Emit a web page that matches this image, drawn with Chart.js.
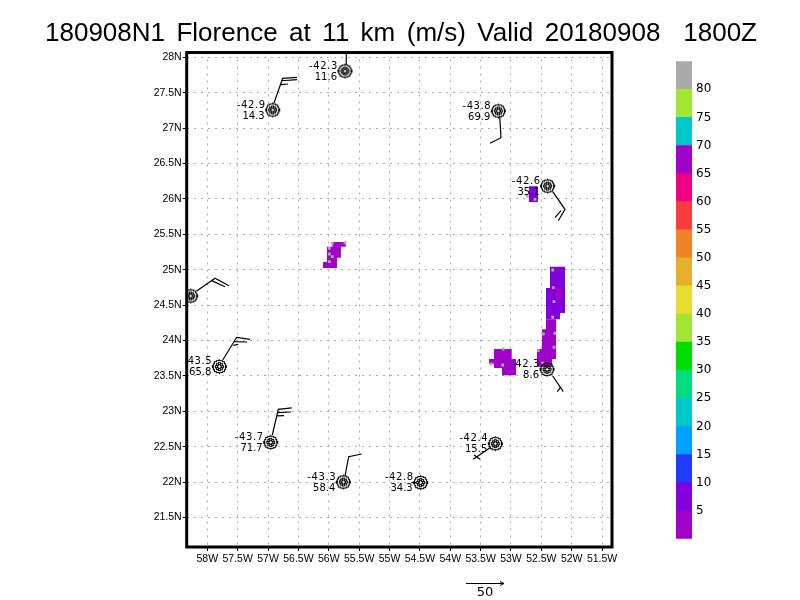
<!DOCTYPE html>
<html>
<head>
<meta charset="utf-8">
<script src="https://cdn.jsdelivr.net/npm/chart.js@4/dist/chart.umd.min.js"></script>
<style>
    body { margin: 0; background: #fff; }
    #map { position: absolute; left: 0; top: 0; }
    #key { position: absolute; left: 670px; top: 50px; }
</style>
</head>
<body>
<canvas id="map" width="800" height="600"></canvas>
<canvas id="key" width="60" height="500"></canvas>
<script>
const titleText = '180908N1 Florence at 11 km (m/s) Valid 20180908  1800Z';

const lonTicks = [-58, -57.5, -57, -56.5, -56, -55.5, -55, -54.5, -54, -53.5, -53, -52.5, -52, -51.5];
const latTicks = [21.5, 22, 22.5, 23, 23.5, 24, 24.5, 25, 25.5, 26, 26.5, 27, 27.5, 28];

// storm centres and their two labels
const stormLon = [-55.733, -56.923, -53.209, -52.396, -58.273, -57.802, -56.956, -55.761, -54.487, -53.259, -52.407];
const stormLat = [27.806, 27.256, 27.242, 26.182, 24.629, 23.63, 22.562, 22.001, 21.992, 22.542, 23.593];
const stormTemp = ['-42.3', '-42.9', '-43.8', '-42.6', null, '-43.5', '-43.7', '-43.3', '-42.8', '-42.4', '-42.3'];
const stormSpeed = ['11.6', '14.3', '69.9', '35.1', null, '65.8', '71.7', '58.4', '34.3', '15.5', '8.6'];

// wind barbs, null breaks the line
const barbLon = [
    -55.712, -55.712, null,
    -56.902, -56.759, -56.523, null, -56.775, -56.523, null, -56.792, -56.671, null,
    -53.186, -53.165, -53.346, null,
    -52.313, -52.111, -52.221, null, -52.177, -52.276, null,
    -58.175, -57.873, -57.643, null, -57.928, -57.709, null,
    -57.746, -57.516, -57.297, null, -57.555, -57.346, null, -57.572, -57.49, null,
    -56.93, -56.831, -56.61, null, -56.848, -56.622, null, -56.857, -56.737, null,
    -55.733, -55.672, -55.458, null,
    -54.635, -54.564, null,
    -53.334, -53.621, null, -53.609, -53.51, null,
    -52.313, -52.139, null, -52.177, -52.238
];
const barbLat = [
    27.891, 28.103, null,
    27.355, 27.703, 27.718, null, 27.669, 27.686, null, 27.613, 27.623, null,
    27.171, 26.864, 26.785, null,
    26.102, 25.853, 25.692, null, 25.833, 25.735, null,
    24.699, 24.879, 24.774, null, 24.845, 24.76, null,
    23.725, 24.045, 24.017, null, 23.983, 23.979, null, 23.932, 23.946, null,
    22.665, 23.028, 23.047, null, 22.98, 22.99, null, 22.934, 22.938, null,
    22.086, 22.359, 22.397, null,
    21.992, 21.992, null,
    22.492, 22.322, null, 22.383, 22.322, null,
    23.499, 23.277, null, 23.348, 23.277
];

// shaded patches, lon/lat outlines
const patchALon = [-55.94, -55.72, -55.72, -55.80, -55.80, -55.865, -55.865, -56.095, -56.095, -56.03, -56.03, -55.94];
const patchALat = [25.39, 25.39, 25.325, 25.325, 25.17, 25.17, 25.025, 25.025, 25.11, 25.11, 25.325, 25.325];
const patchBLon = [-52.358, -52.111, -52.111, -52.193, -52.193, -52.424, -52.424, -52.358];
const patchBLat = [25.04, 25.04, 24.39, 24.39, 24.30, 24.30, 24.74, 24.74];
const patchCLon = [-52.424, -52.259, -52.259, -52.325, -52.325, -52.572, -52.572, -52.49, -52.49, -52.424];
const patchCLat = [24.30, 24.30, 23.74, 23.74, 23.63, 23.63, 23.88, 23.88, 24.16, 24.16];
const patchDLon = [-53.28, -52.988, -52.988, -52.918, -52.918, -53.148, -53.148, -53.28, -53.28, -53.362, -53.362, -53.28];
const patchDLat = [23.88, 23.88, 23.74, 23.74, 23.51, 23.51, 23.61, 23.61, 23.67, 23.67, 23.74, 23.74];
const patchELon = [-52.704, -52.555, -52.555, -52.704];
const patchELat = [26.18, 26.18, 25.956, 25.956];
const patchFLon = [-52.27, -52.16, -52.16, -52.27];
const patchFLat = [24.74, 24.74, 24.6, 24.6];

// grey specks inside the patches
const speckLon = [-52.313, -52.304, -52.292, -52.313, -52.276, -52.468, -52.292, -52.551, -52.478, -53.127, -53.329, -53.137, -55.942, -55.733, -55.991, -55.942, -55.991, -55.991, -52.605, -52.732];
const speckLat = [24.996, 24.746, 24.548, 24.328, 24.102, 24.092, 23.904, 23.856, 23.678, 23.88, 23.668, 23.654, 25.373, 25.381, 25.222, 25.184, 25.302, 25.113, 25.994, 26.041];

// colour key
const keyEdges = [0, 5, 10, 15, 20, 25, 30, 35, 40, 45, 50, 55, 60, 65, 70, 75, 80, 85];
const keyColors = ['#a000c8', '#8200dc', '#1e3cff', '#00a0ff', '#00c8c8', '#00dc82', '#00dc00', '#a0e632', '#e6dc32', '#e6af2d', '#f08228', '#fa3c3c', '#f00082', '#a000c8', '#00c8c8', '#a0e632', '#aaaaaa'];
const keyTicks = [5, 10, 15, 20, 25, 30, 35, 40, 45, 50, 55, 60, 65, 70, 75, 80];

// reference arrow under the map
const arrowLon = [-53.741, -53.115];
const arrowLabel = '50';

function zip(xs, ys) {
    return xs.map((x, i) => ({ x: x, y: ys[i] }));
}

function patch(xs, ys, color) {
    return {
        data: zip(xs, ys),
        showLine: true,
        fill: 'shape',
        backgroundColor: color,
        borderWidth: 0,
        pointRadius: 0,
        tension: 0,
        order: 5
    };
}

function stormSymbol() {
    const c = document.createElement('canvas');
    c.width = 17;
    c.height = 17;
    const g = c.getContext('2d', { willReadFrequently: true });
    g.strokeStyle = '#000';
    g.lineWidth = 1.1;
    [6.5, 3.8, 1.8].forEach(r => {
        g.beginPath();
        g.arc(8.5, 8.5, r, 0, Math.PI * 2);
        g.stroke();
    });
    // hard edges, the rings go grey otherwise
    const img = g.getImageData(0, 0, 17, 17);
    for (let i = 3; i < img.data.length; i += 4) {
        img.data[i] = img.data[i] > 90 ? 255 : 0;
    }
    g.putImageData(img, 0, 0);
    return c;
}

const overlay = {
    id: 'overlay',
    afterDatasetsDraw(chart) {
        const { ctx, chartArea, scales } = chart;
        const a = chartArea;

        ctx.save();
        ctx.beginPath();
        ctx.rect(a.left, a.top, a.width, a.height);
        ctx.clip();
        ctx.fillStyle = '#000';
        ctx.font = '10px "DejaVu Sans"';
        ctx.textAlign = 'right';
        ctx.textBaseline = 'middle';
        stormLon.forEach((lon, i) => {
            if (!stormTemp[i]) return;
            const x = scales.x.getPixelForValue(lon);
            const y = scales.y.getPixelForValue(stormLat[i]);
            ctx.letterSpacing = '0.6px';
            ctx.fillText(stormTemp[i], x - 7, y - 5);
            ctx.letterSpacing = '0px';
            ctx.fillText(stormSpeed[i], x - 8, y + 6);
        });
        ctx.restore();

        ctx.save();
        ctx.strokeStyle = '#000';
        ctx.lineWidth = 3;
        ctx.strokeRect(a.left, a.top, a.width, a.height);

        const x0 = scales.x.getPixelForValue(arrowLon[0]);
        const x1 = scales.x.getPixelForValue(arrowLon[1]);
        const y = a.bottom + 36.5;
        ctx.lineWidth = 1;
        ctx.beginPath();
        ctx.moveTo(x0, y);
        ctx.lineTo(x1, y);
        ctx.moveTo(x1 - 4, y - 2);
        ctx.lineTo(x1, y);
        ctx.lineTo(x1 - 4, y + 2);
        ctx.stroke();
        ctx.fillStyle = '#000';
        ctx.font = '13px "DejaVu Sans"';
        ctx.textAlign = 'center';
        ctx.textBaseline = 'middle';
        ctx.fillText(arrowLabel, (x0 + x1) / 2, y + 9.5);

        // the title is wider than the plot box, so it goes here and not in the title plugin
        ctx.font = '26px "Liberation Sans"';
        ctx.textAlign = 'left';
        const spaces = titleText.split(' ').length - 1;
        ctx.wordSpacing = (712 - ctx.measureText(titleText).width) / spaces + 'px';
        ctx.fillText(titleText, 45, 34);
        ctx.restore();
    }
};

new Chart(document.getElementById('map'), {
    type: 'scatter',
    data: {
        datasets: [
            {
                data: zip(stormLon, stormLat),
                pointStyle: stormSymbol(),
                pointRadius: 8,
                showLine: false,
                order: 1
            },
            {
                data: zip(barbLon, barbLat),
                showLine: true,
                spanGaps: false,
                borderColor: '#000',
                borderWidth: 1.2,
                pointRadius: 0,
                tension: 0,
                order: 2
            },
            {
                data: zip(speckLon, speckLat),
                pointStyle: 'rect',
                pointRadius: 2,
                backgroundColor: '#aaa',
                borderWidth: 0,
                showLine: false,
                order: 3
            },
            Object.assign(patch(patchFLon, patchFLat, '#a000c8'), { order: 4 }),
            patch(patchALon, patchALat, '#a000c8'),
            patch(patchBLon, patchBLat, '#8200dc'),
            patch(patchCLon, patchCLat, '#a000c8'),
            patch(patchDLon, patchDLat, '#a000c8'),
            patch(patchELon, patchELat, '#8200dc')
        ]
    },
    options: {
        responsive: false,
        devicePixelRatio: 1,
        animation: false,
        events: [],
        layout: {
            autoPadding: false,
            padding: { left: 0, right: 188, top: 52.5, bottom: 0 }
        },
        plugins: {
            legend: { display: false },
            tooltip: { enabled: false }
        },
        scales: {
            x: {
                type: 'linear',
                min: -58.339,
                max: -51.337,
                afterBuildTicks: s => { s.ticks = lonTicks.map(v => ({ value: v })); },
                afterFit: s => { s.height = 53; },
                border: { display: false, dash: [2, 5] },
                grid: { color: '#aaa', tickColor: '#000', tickLength: 4, tickBorderDash: [] },
                ticks: {
                    color: '#000',
                    font: { family: '"Liberation Sans"', size: 10.5 },
                    padding: 2,
                    autoSkip: false,
                    maxRotation: 0,
                    callback: v => Math.abs(v) + 'W'
                }
            },
            y: {
                type: 'linear',
                min: 21.083,
                max: 28.068,
                afterBuildTicks: s => { s.ticks = latTicks.map(v => ({ value: v })); },
                afterFit: s => { s.width = 186.7; },
                border: { display: false, dash: [2, 5] },
                grid: { color: '#aaa', tickColor: '#000', tickLength: 4, tickBorderDash: [] },
                ticks: {
                    color: '#000',
                    font: { family: '"Liberation Sans"', size: 10.5 },
                    padding: 1,
                    autoSkip: false,
                    callback: v => v + 'N'
                }
            }
        }
    },
    plugins: [overlay]
});

new Chart(document.getElementById('key'), {
    type: 'bar',
    data: {
        labels: [''],
        datasets: keyColors.map((c, i) => ({
            data: [keyEdges[i + 1] - keyEdges[i]],
            backgroundColor: c,
            barPercentage: 1,
            categoryPercentage: 1,
            borderWidth: 0
        }))
    },
    options: {
        responsive: false,
        devicePixelRatio: 1,
        animation: false,
        events: [],
        layout: {
            autoPadding: false,
            padding: { left: 6, right: 0, top: 10, bottom: 9.3 }
        },
        plugins: { legend: { display: false }, tooltip: { enabled: false } },
        scales: {
            x: { display: false, stacked: true },
            y: {
                position: 'right',
                stacked: true,
                min: 0,
                max: 85,
                afterBuildTicks: s => { s.ticks = keyTicks.map(v => ({ value: v })); },
                afterFit: s => { s.width = 38; },
                border: { display: false },
                grid: { display: false, drawTicks: false, tickLength: 0 },
                ticks: {
                    color: '#000',
                    font: { family: '"DejaVu Sans"', size: 12 },
                    padding: 4,
                    autoSkip: false
                }
            }
        }
    }
});
</script>
</body>
</html>
